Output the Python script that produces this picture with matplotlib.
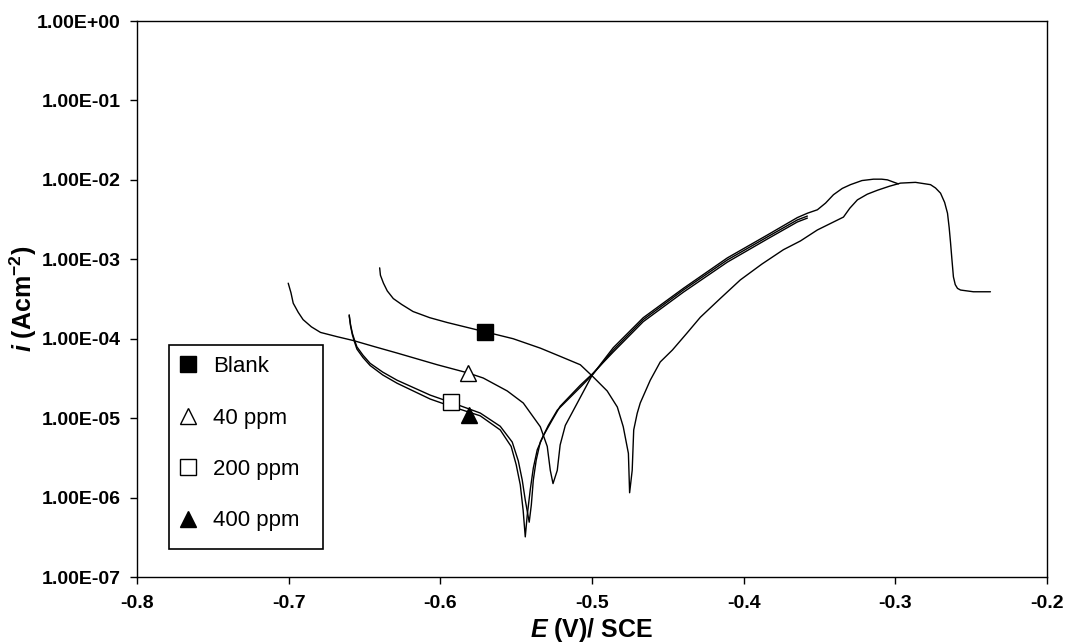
import matplotlib
matplotlib.use("Agg")
import matplotlib.pyplot as plt
from matplotlib.lines import Line2D
from matplotlib.patches import Rectangle
from matplotlib.ticker import FixedLocator, FuncFormatter, NullLocator

# ---------------- data (E in V vs SCE, i in A/cm^2) ----------------
blank_E = [-0.640, -0.6395, -0.6375, -0.635, -0.631, -0.6255, -0.618, -0.607, -0.5955, -0.5704,
           -0.552, -0.534, -0.521, -0.5077, -0.4992, -0.490, -0.4833, -0.4794, -0.4760, -0.4752,
           -0.4735, -0.4725, -0.4702, -0.4682, -0.4616, -0.455, -0.447, -0.4375, -0.4286, -0.4155,
           -0.4022, -0.388, -0.3738, -0.3626, -0.3514, -0.3342, -0.3300, -0.3250, -0.3185, -0.3118,
           -0.304, -0.2966, -0.2867, -0.2768, -0.2735, -0.2702, -0.2675, -0.2656, -0.2645, -0.2636,
           -0.2627, -0.2617, -0.2605, -0.2590, -0.2570, -0.2485, -0.2373]
blank_i = [7.8e-4, 6.3e-4, 5.0e-4, 4.0e-4, 3.2e-4, 2.7e-4, 2.2e-4, 1.84e-4, 1.6e-4, 1.22e-4,
           1.0e-4, 7.6e-5, 6.0e-5, 4.7e-5, 3.3e-5, 2.2e-5, 1.38e-5, 7.8e-6, 3.6e-6, 1.15e-6,
           2.2e-6, 7.1e-6, 1.15e-5, 1.55e-5, 3.0e-5, 5.1e-5, 7.2e-5, 1.17e-4, 1.86e-4, 3.2e-4,
           5.5e-4, 8.7e-4, 1.32e-3, 1.70e-3, 2.34e-3, 3.4e-3, 4.4e-3, 5.6e-3, 6.6e-3, 7.4e-3,
           8.3e-3, 9.1e-3, 9.3e-3, 8.7e-3, 7.9e-3, 6.8e-3, 5.2e-3, 3.8e-3, 2.5e-3, 1.62e-3,
           1.0e-3, 6.0e-4, 4.8e-4, 4.3e-4, 4.1e-4, 3.9e-4, 3.9e-4]

ppm40_E = [-0.7003, -0.6985, -0.697, -0.6937, -0.6905, -0.685, -0.679, -0.668, -0.6575, -0.643,
           -0.6285, -0.602, -0.5816, -0.5717, -0.5559, -0.5453, -0.5341, -0.5295, -0.5275, -0.5257,
           -0.5229, -0.521, -0.5176, -0.5097, -0.4998, -0.486, -0.4662, -0.4398, -0.4108, -0.3844,
           -0.3646, -0.358, -0.3514, -0.346, -0.3408, -0.335, -0.3296, -0.322, -0.3144, -0.309,
           -0.3052, -0.298]
ppm40_i = [5.0e-4, 3.8e-4, 2.8e-4, 2.15e-4, 1.74e-4, 1.41e-4, 1.20e-4, 1.06e-4, 9.5e-5, 7.9e-5,
           6.6e-5, 4.7e-5, 3.7e-5, 3.2e-5, 2.2e-5, 1.55e-5, 7.8e-6, 4.4e-6, 2.2e-6, 1.5e-6,
           2.2e-6, 4.6e-6, 8.1e-6, 1.55e-5, 3.5e-5, 7.7e-5, 1.84e-4, 4.3e-4, 1.04e-3, 2.02e-3,
           3.35e-3, 3.8e-3, 4.2e-3, 5.1e-3, 6.5e-3, 7.8e-3, 8.7e-3, 9.8e-3, 1.02e-2, 1.02e-2,
           1.0e-2, 8.9e-3]

ppm200_E = [-0.6601, -0.6592, -0.658, -0.6565, -0.655, -0.651, -0.6463, -0.638, -0.6285, -0.6067,
            -0.593, -0.5737, -0.5605, -0.5526, -0.5486, -0.546, -0.544, -0.5414, -0.540, -0.5387,
            -0.5368, -0.5341, -0.5288, -0.5229, -0.5077, -0.4998, -0.486, -0.4662, -0.4398, -0.4108,
            -0.3844, -0.3646, -0.358]
ppm200_i = [2.0e-4, 1.5e-4, 1.17e-4, 9.5e-5, 7.9e-5, 6.2e-5, 4.9e-5, 3.8e-5, 3.0e-5, 1.95e-5,
            1.58e-5, 1.16e-5, 7.9e-6, 5.0e-6, 2.9e-6, 1.66e-6, 9.3e-7, 4.9e-7, 8.1e-7, 1.66e-6,
            2.95e-6, 5.0e-6, 8.1e-6, 1.26e-5, 2.45e-5, 3.5e-5, 7.2e-5, 1.74e-4, 4.1e-4, 9.8e-4,
            1.91e-3, 3.13e-3, 3.5e-3]

ppm400_E = [-0.6601, -0.6592, -0.658, -0.6565, -0.655, -0.651, -0.6463, -0.638, -0.6285, -0.6067,
            -0.593, -0.5737, -0.5605, -0.5533, -0.550, -0.5473, -0.5454, -0.544, -0.5427, -0.5407,
            -0.5387, -0.5361, -0.5321, -0.5262, -0.521, -0.5077, -0.4998, -0.486, -0.4662, -0.4398,
            -0.4108, -0.3844, -0.3646, -0.358]
ppm400_i = [1.95e-4, 1.45e-4, 1.12e-4, 9.0e-5, 7.4e-5, 5.8e-5, 4.6e-5, 3.5e-5, 2.75e-5, 1.74e-5,
            1.41e-5, 1.07e-5, 7.1e-6, 4.4e-6, 2.6e-6, 1.45e-6, 6.9e-7, 3.2e-7, 6.0e-7, 1.26e-6,
            2.35e-6, 4.0e-6, 6.0e-6, 9.5e-6, 1.41e-5, 2.6e-5, 3.6e-5, 6.8e-5, 1.64e-4, 3.85e-4,
            9.2e-4, 1.80e-3, 2.95e-3, 3.3e-3]

series_labels = ["Blank", "40 ppm", "200 ppm", "400 ppm"]
marker_E = [-0.5704, -0.5816, -0.593, -0.581]
marker_i = [1.22e-4, 3.7e-5, 1.6e-5, 1.1e-5]

x_ticks = [-0.8, -0.7, -0.6, -0.5, -0.4, -0.3, -0.2]
x_ticklabels = ["-0.8", "-0.7", "-0.6", "-0.5", "-0.4", "-0.3", "-0.2"]
y_ticks = [1e0, 1e-1, 1e-2, 1e-3, 1e-4, 1e-5, 1e-6, 1e-7]

# ---------------- styling ----------------
plt.rcParams['font.family'] = ['Liberation Sans', 'DejaVu Sans']
plt.rcParams['mathtext.fontset'] = 'custom'
plt.rcParams['mathtext.rm'] = 'Liberation Sans:bold'
plt.rcParams['mathtext.bf'] = 'Liberation Sans:bold'
plt.rcParams['mathtext.it'] = 'Liberation Sans:italic:bold'
plt.rcParams['axes.unicode_minus'] = False

fig = plt.figure(figsize=(10.66, 6.44), dpi=100)
ax = fig.add_axes([137 / 1066, 1 - 577 / 644, 910 / 1066, 556 / 644])

lw = 1.0
for E, i in [(blank_E, blank_i), (ppm40_E, ppm40_i), (ppm200_E, ppm200_i), (ppm400_E, ppm400_i)]:
    ax.plot(E, i, color='black', lw=lw, solid_joinstyle='round', solid_capstyle='round')

marker_styles = [
    dict(marker='s', mfc='black', mec='black'),
    dict(marker='^', mfc='white', mec='black'),
    dict(marker='s', mfc='white', mec='black'),
    dict(marker='^', mfc='black', mec='black'),
]
for E, i, st in zip(marker_E, marker_i, marker_styles):
    ax.plot([E], [i], linestyle='none', ms=11, mew=1.0, zorder=5, **st)

ax.set_yscale('log')
ax.set_xlim(-0.8, -0.2)
ax.set_ylim(1e-7, 1e0)
ax.xaxis.set_major_locator(FixedLocator(x_ticks))
ax.set_xticklabels(x_ticklabels)
ax.yaxis.set_major_locator(FixedLocator(y_ticks))
ax.yaxis.set_minor_locator(NullLocator())
ax.yaxis.set_major_formatter(FuncFormatter(lambda v, p: f"{v:.2E}"))

for s in ax.spines.values():
    s.set_linewidth(1.0)
ax.tick_params(axis='both', which='major', direction='out', length=5, width=1.0,
               labelsize=14)
ax.tick_params(axis='x', pad=8)
ax.tick_params(axis='y', pad=7)
for lab in ax.get_xticklabels() + ax.get_yticklabels():
    lab.set_fontweight('bold')

ax.set_xlabel(r'$E$ (V)/ SCE', fontsize=18, fontweight='bold')
ax.set_ylabel(r'$i$ (Acm$^{-2}$)', fontsize=18, fontweight='bold')
ax.xaxis.set_label_coords(0.5, -0.07)
ax.yaxis.set_label_coords(-0.108, 0.5)

# legend box (frame drawn separately so its size matches the original)
box = Rectangle((0.0352, 0.0504), 0.1692, 0.3669, transform=ax.transAxes,
                facecolor='white', edgecolor='black', linewidth=1.2, zorder=6)
ax.add_patch(box)
handles = [Line2D([], [], linestyle='none', ms=12, mew=1.0, **st) for st in marker_styles]
leg = ax.legend(handles, series_labels, loc='upper left', bbox_to_anchor=(0.0352, 0.4173),
                borderaxespad=0, frameon=False, prop={'size': 16},
                handlelength=0.7, handletextpad=0.8, labelspacing=1.37, borderpad=0.5)
leg.set_zorder(7)

fig.savefig('out.png', dpi=100)
